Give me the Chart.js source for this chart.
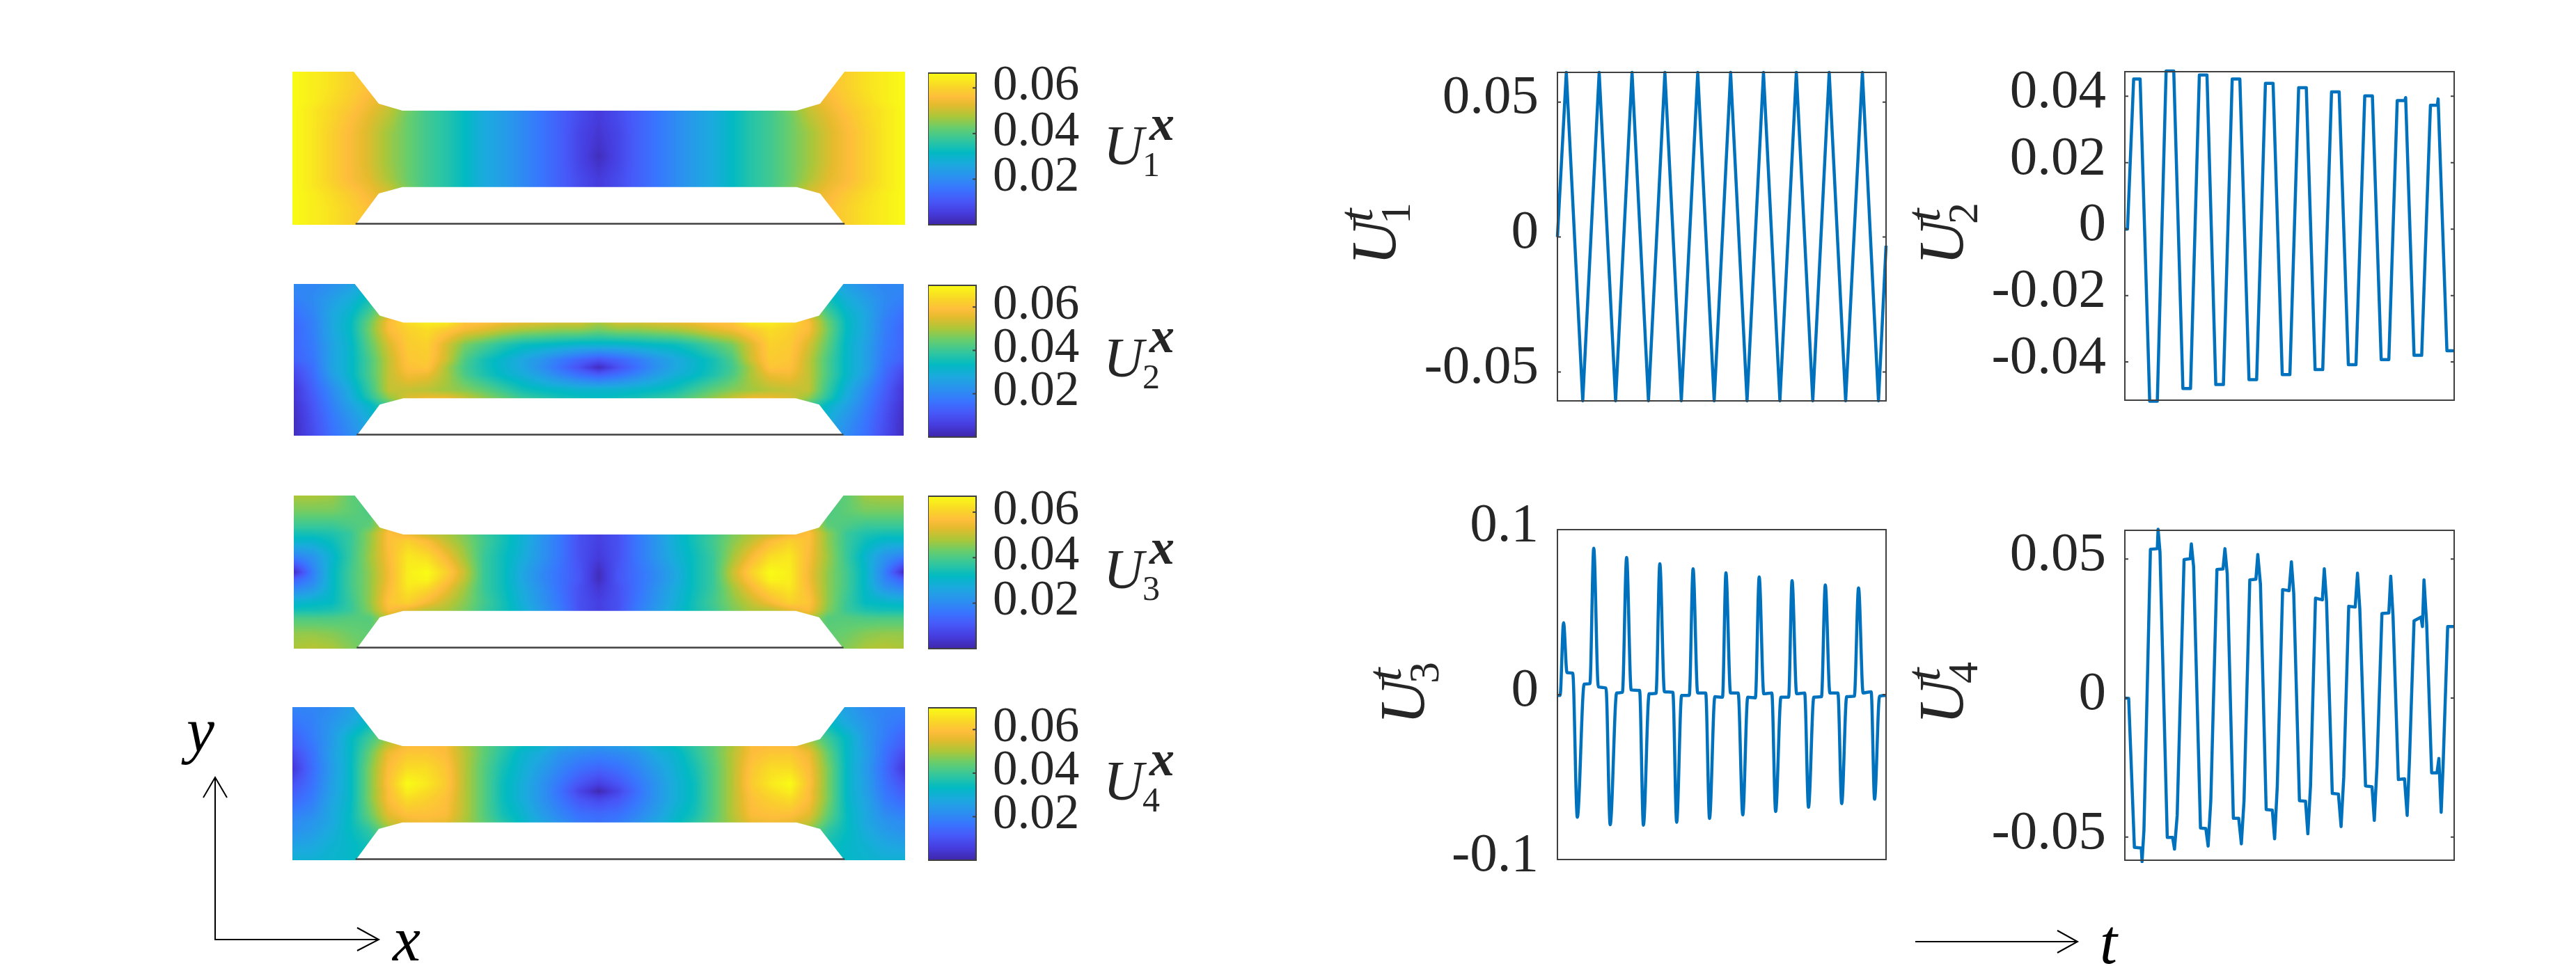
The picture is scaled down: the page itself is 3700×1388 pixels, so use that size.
<!DOCTYPE html>
<html>
<head>
<meta charset="utf-8">
<title>Modes</title>
<script src="https://cdn.jsdelivr.net/npm/chart.js@4"></script>
<style>
  body { margin: 0; background: #fff; width: 3700px; height: 1388px; overflow: hidden; position: relative; }
  canvas { position: absolute; }
</style>
</head>
<body>
<script>
// time coefficients, t in load cycles
const t1 = [0, .27, .77, 1.27, 1.77, 2.27, 2.77, 3.27, 3.77, 4.27, 4.77, 5.27, 5.77, 6.27, 6.77, 7.27, 7.77, 8.27, 8.77, 9.28, 9.77, 10];
const u1 = [0, .061, -.0607, .061, -.0607, .061, -.0607, .061, -.0607, .061, -.0607, .061, -.0607, .061, -.0607, .061, -.0607, .061, -.0607, .061, -.0607, -.0032];

const t2 = [0, .08, .267, .464, .754, .986, 1.253, 1.485, 1.763, 1.995, 2.262, 2.494, 2.761, 2.993, 3.26, 3.492, 3.77, 4.002, 4.269, 4.501, 4.78, 5.012, 5.278, 5.51, 5.777, 6.009, 6.276, 6.508, 6.787, 7.019, 7.285, 7.517, 7.784, 8.016, 8.271, 8.5, 8.527, 8.782, 9.014, 9.28, 9.49, 9.513, 9.78, 10];
const u2 = [0, 0, .0452, .0452, -.0518, -.0518, .0476, .0476, -.048, -.048, .0464, .0464, -.0468, -.0468, .0452, .0452, -.0453, -.0453, .0439, .0439, -.0438, -.0438, .0426, .0426, -.0423, -.0423, .0413, .0413, -.0408, -.0408, .0401, .0401, -.0393, -.0393, .0387, .0387, .0396, -.038, -.038, .0373, .0373, .0392, -.0366, -.0366];

const t3 = [0, .081, .186, .291, .465, .605, .814, .988, 1.105, 1.244, 1.477, 1.605, 1.802, 1.977, 2.105, 2.244, 2.5, 2.616, 2.791, 3, 3.116, 3.256, 3.512, 3.628, 3.779, 4.012, 4.128, 4.267, 4.512, 4.628, 4.791, 5.023, 5.128, 5.267, 5.5, 5.64, 5.791, 6.023, 6.14, 6.279, 6.523, 6.64, 6.802, 7.035, 7.14, 7.279, 7.523, 7.64, 7.802, 8.035, 8.151, 8.291, 8.535, 8.651, 8.802, 9.035, 9.163, 9.302, 9.547, 9.651, 9.802, 10];
const u3 = [-.0005, -.0005, .0436, .0133, .013, -.0744, .0063, .0066, .0887, .0047, .004, -.0789, .001, .0013, .0831, .0028, .0025, -.0792, .0005, .0007, .0793, .0017, .0014, -.0774, -.0005, -.0005, .0763, .001, .001, -.0751, -.0013, -.0016, .0738, .001, .001, -.0729, -.0016, -.002, .0713, .0005, .001, -.0709, -.0016, -.0016, .0691, .0005, .001, -.0683, -.0016, -.0013, .0665, .001, .001, -.0661, -.0013, -.001, .0647, .001, .0017, -.0634, -.001, -.0005];

const t4 = [0, .116, .29, .499, .522, .58, .777, .986, 1.009, 1.067, 1.288, 1.45, 1.508, 1.589, 1.798, 1.984, 2.019, 2.088, 2.297, 2.459, 2.529, 2.61, 2.796, 2.981, 3.039, 3.109, 3.295, 3.457, 3.538, 3.619, 3.794, 3.979, 4.037, 4.118, 4.292, 4.478, 4.548, 4.629, 4.791, 4.988, 5.058, 5.128, 5.302, 5.487, 5.557, 5.638, 5.789, 5.998, 6.056, 6.125, 6.299, 6.485, 6.566, 6.647, 6.798, 6.995, 7.065, 7.135, 7.309, 7.506, 7.575, 7.657, 7.807, 8.016, 8.074, 8.144, 8.306, 8.492, 8.573, 8.643, 8.782, 8.991, 9.037, 9.084, 9.165, 9.316, 9.478, 9.536, 9.606, 9.664, 9.803, 10];
const u4 = [0, -.0001, -.0537, -.0539, -.0588, -.0474, .0535, .0537, .0607, .0525, -.0501, -.0501, -.0543, -.0422, .0498, .0501, .0554, .0472, -.0467, -.0469, -.0532, -.0369, .0462, .0464, .0537, .0446, -.0432, -.0432, -.0524, -.0369, .0425, .0427, .0516, .0409, -.0401, -.0403, -.0506, -.0316, .039, .0386, .049, .0377, -.0369, -.0371, -.0488, -.0316, .0359, .0353, .0465, .0346, -.0343, -.0345, -.0462, -.0285, .033, .0327, .0449, .032, -.0316, -.0319, -.044, -.0243, .0304, .0306, .0438, .0293, -.0293, -.029, -.0422, -.0222, .0278, .0291, .0257, .0425, .0267, -.0269, -.0269, -.0217, -.0411, -.0243, .0257, .0257];

const yTicks12 = [.05, 0, -.05];
const yTicks2 = [.04, .02, 0, -.02, -.04];
const yTicks3 = [.1, 0, -.1];
const barTicks = [.02, .04, .06];

// spatial modes, read in units of 1e-3 on a grid of 33 columns by 14 rows
const gridX = [0, 1, 2, 3, 4, 5, 6, 7, 8, 9, 10, 11, 12, 13, 14, 15, 16, 17, 18, 19, 20, 21, 22, 23, 24, 25, 26, 27, 28, 29, 30, 31, 32];
const gridY = [10, 9, 8, 7.5, 7, 6, 5, 4.5, 4, 3, 2.5, 2, 1, 0];

const fieldA = [
  [67,65,63,60,57,54,45,39,36,32,27,24,20,16,12,8,5,8,12,16,20,24,27,32,36,39,45,54,57,60,63,65,67],
  [67,65,63,60,57,54,45,39,36,32,27,24,20,16,12,8,5,8,12,16,20,24,27,32,36,39,45,54,57,60,63,65,67],
  [67,65,62,59,55,52,44,39,36,32,27,24,20,16,12,8,5,8,12,16,20,24,27,32,36,39,44,52,55,59,62,65,67],
  [67,64,61,58,54,50,44,39,36,32,27,24,20,16,12,8,5,8,12,16,20,24,27,32,36,39,44,50,54,58,61,64,67],
  [67,64,61,57,53,49,43,39,36,32,27,24,20,16,12,8,5,8,12,16,20,24,27,32,36,39,43,49,53,57,61,64,67],
  [67,64,60,56,52,47,43,39,36,32,27,24,20,16,12,7,4,7,12,16,20,24,27,32,36,39,43,47,52,56,60,64,67],
  [67,64,60,56,52,47,43,39,36,32,27,24,20,16,12,7,3,7,12,16,20,24,27,32,36,39,43,47,52,56,60,64,67],
  [67,64,60,56,52,47,43,39,36,32,27,24,20,16,12,7,2,7,12,16,20,24,27,32,36,39,43,47,52,56,60,64,67],
  [67,64,60,56,52,47,43,39,36,32,27,24,20,16,12,7,3,7,12,16,20,24,27,32,36,39,43,47,52,56,60,64,67],
  [67,64,60,56,53,48,43,39,36,32,27,24,20,16,12,8,5,8,12,16,20,24,27,32,36,39,43,48,53,56,60,64,67],
  [67,64,61,57,54,50,44,39,36,32,27,24,20,16,12,8,5,8,12,16,20,24,27,32,36,39,44,50,54,57,61,64,67],
  [67,65,62,59,55,52,44,39,36,32,27,24,20,16,12,8,5,8,12,16,20,24,27,32,36,39,44,52,55,59,62,65,67],
  [67,65,63,60,57,54,45,39,36,32,27,24,20,16,12,8,5,8,12,16,20,24,27,32,36,39,45,54,57,60,63,65,67],
  [67,65,63,60,57,54,45,39,36,32,27,24,20,16,12,8,5,8,12,16,20,24,27,32,36,39,45,54,57,60,63,65,67]
];
const fieldB = [
  [20,19,21,24,30,40,50,60,65,58,57,55,54,53,52,52,48,52,52,53,54,55,57,58,65,60,50,40,30,24,21,19,20],
  [18,20,24,28,34,44,55,62,65,58,57,55,54,53,52,52,48,52,52,53,54,55,57,58,65,62,55,44,34,28,24,20,18],
  [15,19,26,31,40,52,60,65,65,58,57,55,54,53,52,52,48,52,52,53,54,55,57,58,65,65,60,52,40,31,26,19,15],
  [14,18,26,32,43,56,62,65,65,58,57,55,54,53,52,52,48,52,52,53,54,55,57,58,65,65,62,56,43,32,26,18,14],
  [13,18,26,32,44,56,60,62,59,55,53,50,48,47,46,46,44,46,46,47,48,50,53,55,59,62,60,56,44,32,26,18,13],
  [13,17,25,31,42,52,59,60,52,44,40,36,33,32,31,30,30,30,31,32,33,36,40,44,52,60,59,52,42,31,25,17,13],
  [12,16,25,31,40,50,58,59,51,40,34,30,26,22,17,13,10,13,17,22,26,30,34,40,51,59,58,50,40,31,25,16,12],
  [9,15,25,31,40,50,57,58,48,39,34,30,26,21,15,9,2,9,15,21,26,30,34,39,48,58,57,50,40,31,25,15,9],
  [7,14,24,31,40,50,55,54,48,40,35,31,28,24,19,15,12,15,19,24,28,31,35,40,48,54,55,50,40,31,24,14,7],
  [4,12,20,28,38,50,50,49,47,45,42,38,34,32,31,30,30,30,31,32,34,38,42,45,47,49,50,50,38,28,20,12,4],
  [4,11,19,27,36,46,52,54,54,50,46,42,38,36,34,33,32,33,34,36,38,42,46,50,54,54,52,46,36,27,19,11,4],
  [3,10,18,25,31,40,48,54,54,50,46,42,38,36,34,33,32,33,34,36,38,42,46,50,54,54,48,40,31,25,18,10,3],
  [2,9,16,22,28,36,48,54,54,50,46,42,38,36,34,33,32,33,34,36,38,42,46,50,54,54,48,36,28,22,16,9,2],
  [2,8,15,20,26,34,48,54,54,50,46,42,38,36,34,33,32,33,34,36,38,42,46,50,54,54,48,34,26,20,15,8,2]
];
const fieldC = [
  [48,48,47,42,40,50,54,50,48,44,38,34,29,23,17,9,6,9,17,23,29,34,38,44,48,50,54,50,40,42,47,48,48],
  [44,44,44,42,40,52,54,50,48,44,38,34,29,23,17,9,6,9,17,23,29,34,38,44,48,50,54,52,40,42,44,44,44],
  [38,38,38,40,42,54,54,50,48,44,38,34,29,23,17,9,6,9,17,23,29,34,38,44,48,50,54,54,42,40,38,38,38],
  [34,34,35,38,46,57,54,50,48,44,38,34,29,23,17,9,6,9,17,23,29,34,38,44,48,50,54,57,46,38,35,34,34],
  [30,30,33,38,46,57,60,56,50,45,39,34,29,22,16,9,6,9,16,22,29,34,39,45,50,56,60,57,46,38,33,30,30],
  [18,22,30,38,47,56,64,62,55,47,38,33,28,22,16,9,5,9,16,22,28,33,38,47,55,62,64,56,47,38,30,22,18],
  [2,18,31,39,46,55,65,67,60,50,38,33,26,20,15,10,2,10,15,20,26,33,38,50,60,67,65,55,46,39,31,18,2],
  [12,19,31,39,46,55,65,66,58,49,38,33,26,20,15,10,2,10,15,20,26,33,38,49,58,66,65,55,46,39,31,19,12],
  [18,22,31,39,46,56,64,62,55,47,38,33,27,21,15,9,4,9,15,21,27,33,38,47,55,62,64,56,46,39,31,22,18],
  [30,31,32,38,46,58,60,55,50,45,39,34,28,22,16,9,6,9,16,22,28,34,39,45,50,55,60,58,46,38,32,31,30],
  [34,34,35,38,45,56,53,49,48,44,38,34,29,23,17,9,6,9,17,23,29,34,38,44,48,49,53,56,45,38,35,34,34],
  [40,40,40,41,41,50,53,49,48,44,38,34,29,23,17,9,6,9,17,23,29,34,38,44,48,49,53,50,41,41,40,40,40],
  [46,46,45,43,42,46,53,49,48,44,38,34,29,23,17,9,6,9,17,23,29,34,38,44,48,49,53,46,42,43,45,46,46],
  [48,49,48,45,42,46,53,49,48,44,38,34,29,23,17,9,6,9,17,23,29,34,38,44,48,49,53,46,42,45,48,49,48]
];
const fieldD = [
  [19,19,20,24,28,36,50,56,56,48,42,37,33,30,26,24,23,24,26,30,33,37,42,48,56,56,50,36,28,24,20,19,19],
  [16,18,22,26,32,42,54,56,56,48,42,37,33,30,26,24,23,24,26,30,33,37,42,48,56,56,54,42,32,26,22,18,16],
  [12,17,23,31,38,46,56,56,56,48,42,37,33,30,26,24,23,24,26,30,33,37,42,48,56,56,56,46,38,31,23,17,12],
  [11,16,23,31,40,50,56,56,56,48,42,37,33,30,26,24,23,24,26,30,33,37,42,48,56,56,56,50,40,31,23,16,11],
  [8,15,24,31,42,54,58,58,56,49,42,36,30,27,22,20,19,20,22,27,30,36,42,49,56,58,58,54,42,31,24,15,8],
  [4,14,23,31,44,56,62,62,58,49,41,34,29,24,19,15,13,15,19,24,29,34,41,49,58,62,62,56,44,31,23,14,4],
  [9,15,24,31,44,57,67,64,59,49,41,33,28,22,16,10,6,10,16,22,28,33,41,49,59,64,67,57,44,31,24,15,9],
  [11,16,24,31,44,56,65,62,58,49,41,33,28,22,15,7,1,7,15,22,28,33,41,49,58,62,65,56,44,31,24,16,11],
  [13,17,25,31,44,56,62,60,57,49,41,33,28,22,16,10,7,10,16,22,28,33,41,49,57,60,62,56,44,31,25,17,13],
  [18,20,26,32,42,53,57,57,56,49,41,34,30,24,19,15,14,15,19,24,30,34,41,49,56,57,57,53,42,32,26,20,18],
  [20,22,26,32,40,50,54,55,54,48,42,36,31,26,21,17,15,17,21,26,31,36,42,48,54,55,54,50,40,32,26,22,20],
  [21,23,27,32,37,46,54,55,54,48,42,36,31,26,21,17,15,17,21,26,31,36,42,48,54,55,54,46,37,32,27,23,21],
  [25,26,29,31,34,44,54,55,54,48,42,36,31,26,21,17,15,17,21,26,31,36,42,48,54,55,54,44,34,31,29,26,25],
  [29,29,30,31,34,44,54,55,54,48,42,36,31,26,21,17,15,17,21,26,31,36,42,48,54,55,54,44,34,31,30,29,29]
];

// specimen outline in grid units
const outlineX = [0, 3.2, 4.51, 5.75, 26.33, 27.56, 28.84, 32, 32, 28.84, 27.56, 26.33, 5.75, 4.51, 3.3, 0];
const outlineY = [10, 10, 7.91, 7.45, 7.45, 7.91, 10, 10, 0, 0, 2.05, 2.47, 2.47, 2.05, 0, 0];

// parula
const cmapPos = [0, 5, 10, 15, 20, 25, 30, 35, 40, 45, 50, 53, 57, 63];
const cmapHex = ["#3e26a8", "#463cde", "#4758f8", "#3875fe", "#2b91ef", "#1ca9df", "#02bac3", "#31c69f", "#64cd6f", "#abc739", "#e6bb2d", "#febd3c", "#f9d429", "#f9fb15"];
const heatMax = 67;

const ink = "#262626";
const frameColor = "#404040";
const serif = '"Liberation Serif", serif';

Chart.defaults.animation = false;
Chart.defaults.responsive = false;
Chart.defaults.devicePixelRatio = 1;
Chart.defaults.plugins.legend.display = false;
Chart.defaults.plugins.tooltip.enabled = false;

function hexRgb(h) {
  return [1, 3, 5].map((i) => parseInt(h.slice(i, i + 2), 16));
}

const lut = [];
for (let i = 0; i < 256; i++) {
  const p = (i / 255) * 63;
  let k = 0;
  while (k < cmapPos.length - 2 && cmapPos[k + 1] < p) k++;
  const f = (p - cmapPos[k]) / (cmapPos[k + 1] - cmapPos[k]);
  const a = hexRgb(cmapHex[k]);
  const b = hexRgb(cmapHex[k + 1]);
  lut.push(a.map((c, n) => c + (b[n] - c) * f));
}

function addCanvas(left, top, w, h) {
  const c = document.createElement("canvas");
  c.width = w;
  c.height = h;
  c.style.left = left + "px";
  c.style.top = top + "px";
  document.body.appendChild(c);
  return c.getContext("2d");
}

// box outline plus the short inward MATLAB ticks
const framePlugin = {
  id: "frame",
  afterDraw(chart, args, opts) {
    const { ctx, chartArea: a, scales } = chart;
    const y = scales.y;
    ctx.save();
    ctx.strokeStyle = frameColor;
    ctx.lineWidth = 2;
    ctx.strokeRect(a.left, a.top, a.right - a.left, a.bottom - a.top);
    y.ticks.forEach((tk) => {
      const py = y.getPixelForValue(tk.value);
      ctx.beginPath();
      if (opts.both) {
        ctx.moveTo(a.left, py);
        ctx.lineTo(a.left + 5, py);
      }
      ctx.moveTo(a.right, py);
      ctx.lineTo(a.right - 5, py);
      ctx.stroke();
    });
    ctx.restore();
  },
};

function lineChart(box, t, u, yMin, yMax, ticks) {
  const padL = 210, padV = 50;
  const ctx = addCanvas(box.l - padL, box.t - padV, box.r - box.l + padL + 10, box.b - box.t + 2 * padV);
  return new Chart(ctx, {
    type: "scatter",
    data: {
      datasets: [
        {
          data: t.map((v, i) => ({ x: v, y: u[i] })),
          showLine: true,
          borderColor: "#0072bd",
          borderWidth: 4.5,
          borderJoinStyle: "round",
          pointRadius: 0,
          clip: 4,
          cubicInterpolationMode: box.smooth ? "monotone" : "default",
        },
      ],
    },
    options: {
      layout: { padding: { top: padV, bottom: padV, right: 10 } },
      plugins: { frame: { both: true } },
      scales: {
        x: { type: "linear", min: 0, max: 10, display: false },
        y: {
          type: "linear",
          min: yMin,
          max: yMax,
          afterFit: (s) => {
            s.width = padL;
            s.paddingTop = 0;
            s.paddingBottom = 0;
          },
          afterBuildTicks: (s) => { s.ticks = ticks.map((v) => ({ value: v })); },
          grid: { display: false },
          border: { display: false },
          ticks: {
            autoSkip: false,
            padding: 19,
            labelOffset: -5,
            color: ink,
            font: { family: serif, size: 79 },
            callback: (v) => String(v),
          },
        },
      },
    },
    plugins: [framePlugin],
  });
}

function colorBar(box, top) {
  const padV = 50, padR = 160;
  const ctx = addCanvas(box.l, box.t - padV, box.r - box.l + padR, box.b - box.t + 2 * padV);
  return new Chart(ctx, {
    type: "bar",
    data: {
      labels: [""],
      datasets: [
        {
          data: [[0, top]],
          categoryPercentage: 1,
          barPercentage: 1,
          backgroundColor: (c) => {
            const area = c.chart.chartArea;
            if (!area) return "#000";
            const g = c.chart.ctx.createLinearGradient(0, area.bottom, 0, area.top);
            cmapPos.forEach((p, i) => g.addColorStop(p / 63, cmapHex[i]));
            return g;
          },
        },
      ],
    },
    options: {
      layout: { padding: { top: padV, bottom: padV } },
      plugins: { frame: { both: false } },
      scales: {
        x: { display: false },
        y: {
          type: "linear",
          position: "right",
          min: 0,
          max: top,
          afterFit: (s) => {
            s.width = padR;
            s.paddingTop = 0;
            s.paddingBottom = 0;
          },
          afterBuildTicks: (s) => { s.ticks = barTicks.map((v) => ({ value: v })); },
          grid: { display: false },
          border: { display: false },
          ticks: {
            autoSkip: false,
            padding: 16,
            labelOffset: -2,
            color: ink,
            font: { family: serif, size: 71 },
          },
        },
      },
    },
    plugins: [framePlugin],
  });
}

// smooths the grid nodes between the pixels the scales give for them
const heatPlugin = {
  id: "heat",
  afterDatasetsDraw(chart) {
    const { ctx, chartArea: a, scales: { x, y } } = chart;
    const pts = chart.data.datasets[0].data;
    const nc = gridX.length;
    const W = Math.round(a.right - a.left), H = Math.round(a.bottom - a.top);
    const off = document.createElement("canvas");
    off.width = W;
    off.height = H;
    const oc = off.getContext("2d");
    const img = oc.createImageData(W, H);
    for (let py = 0; py < H; py++) {
      const yv = y.getValueForPixel(a.top + py + 0.5);
      let r = 0;
      while (r < gridY.length - 2 && gridY[r + 1] > yv) r++;
      const fy = (gridY[r] - yv) / (gridY[r] - gridY[r + 1]);
      for (let px = 0; px < W; px++) {
        const xv = x.getValueForPixel(a.left + px + 0.5);
        const c = Math.max(0, Math.min(nc - 2, Math.floor(xv)));
        const fx = xv - c;
        const top = pts[r * nc + c].v * (1 - fx) + pts[r * nc + c + 1].v * fx;
        const bot = pts[(r + 1) * nc + c].v * (1 - fx) + pts[(r + 1) * nc + c + 1].v * fx;
        const val = top * (1 - fy) + bot * fy;
        const rgb = lut[Math.max(0, Math.min(255, Math.round((val / heatMax) * 255)))];
        const o = (py * W + px) * 4;
        img.data[o] = rgb[0];
        img.data[o + 1] = rgb[1];
        img.data[o + 2] = rgb[2];
        img.data[o + 3] = 255;
      }
    }
    oc.putImageData(img, 0, 0);
    ctx.save();
    ctx.beginPath();
    outlineX.forEach((v, i) => {
      ctx.lineTo(x.getPixelForValue(v), y.getPixelForValue(outlineY[i]));
    });
    ctx.closePath();
    ctx.clip();
    ctx.drawImage(off, a.left, a.top);
    ctx.restore();
    ctx.save();
    ctx.strokeStyle = frameColor;
    ctx.lineWidth = 2.5;
    ctx.beginPath();
    ctx.moveTo(x.getPixelForValue(3.3), a.bottom - 1.5);
    ctx.lineTo(x.getPixelForValue(28.84), a.bottom - 1.5);
    ctx.stroke();
    ctx.restore();
  },
};

function heatChart(box, field) {
  const ctx = addCanvas(box.l, box.t, box.r - box.l, box.b - box.t);
  const pts = [];
  gridY.forEach((gy, r) => {
    gridX.forEach((gx, c) => {
      pts.push({ x: gx, y: gy, v: field[r][c] });
    });
  });
  return new Chart(ctx, {
    type: "scatter",
    data: { datasets: [{ data: pts, pointRadius: 0 }] },
    options: {
      scales: {
        x: { type: "linear", min: 0, max: 32, display: false },
        y: { type: "linear", min: 0, max: 10, display: false },
      },
    },
    plugins: [heatPlugin],
  });
}

heatChart({ l: 420, r: 1300, t: 103, b: 323 }, fieldA);
heatChart({ l: 422, r: 1298, t: 408, b: 626 }, fieldB);
heatChart({ l: 422, r: 1298, t: 712, b: 932 }, fieldC);
heatChart({ l: 420, r: 1300, t: 1016, b: 1236 }, fieldD);

colorBar({ l: 1333, r: 1402, t: 105, b: 323 }, .0665);
colorBar({ l: 1333, r: 1402, t: 410, b: 628 }, .07);
colorBar({ l: 1333, r: 1402, t: 713, b: 932 }, .067);
colorBar({ l: 1333, r: 1402, t: 1017, b: 1236 }, .07);

lineChart({ l: 2237, r: 2709, t: 104, b: 576 }, t1, u1, -.0607, .061, yTicks12);
lineChart({ l: 3052, r: 3525, t: 103, b: 575 }, t2, u2, -.0515, .0474, yTicks2);
lineChart({ l: 2237, r: 2709, t: 761, b: 1235, smooth: true }, t3, u3, -.1, .1, yTicks3);
lineChart({ l: 3052, r: 3525, t: 762, b: 1236 }, t4, u4, -.0583, .0603, yTicks12);

// symbols and the two axis arrows, on one overlay in page coordinates
const barLabelTops = [103, 408, 712, 1016];
const barLabelSubs = ["1", "2", "3", "4"];
const sideLabels = [
  { x: 2004, y: 381, sub: "1" },
  { x: 2819, y: 381, sub: "2" },
  { x: 2045, y: 1041, sub: "3" },
  { x: 2819, y: 1041, sub: "4" },
];

const overlayPlugin = {
  id: "overlay",
  afterDraw(chart) {
    const ctx = chart.ctx;
    const text = (s, x, y, font) => {
      ctx.font = font;
      ctx.fillText(s, x, y);
    };
    const math = 'italic 90px ' + serif;
    ctx.save();
    ctx.fillStyle = ink;
    ctx.textBaseline = "alphabetic";
    barLabelTops.forEach((top, i) => {
      text("U", 1585, top + 133, "italic 80px " + serif);
      text(barLabelSubs[i], 1641, top + 150, "50px " + serif);
      text("x", 1651, top + 98, "italic bold 72px " + serif);
    });
    sideLabels.forEach((l) => {
      ctx.save();
      ctx.translate(l.x, l.y);
      ctx.rotate(-Math.PI / 2);
      text("U", 0, 0, math);
      text("t", 62, -33, "italic 70px " + serif);
      text(l.sub, 59, 21, "62px " + serif);
      ctx.restore();
    });
    ctx.fillStyle = "#000";
    text("y", 268, 1080, math);
    text("x", 564, 1380, math);
    text("t", 3016, 1384, math);

    ctx.strokeStyle = "#000";
    ctx.lineWidth = 2;
    const seg = (pts) => {
      ctx.beginPath();
      pts.forEach((p) => ctx.lineTo(p[0], p[1]));
      ctx.stroke();
    };
    seg([[309, 1117], [309, 1350], [544, 1350]]);
    seg([[292, 1146], [309, 1117], [326, 1146]]);
    seg([[513, 1333], [544, 1350], [513, 1366]]);
    seg([[2751, 1353], [2984, 1353]]);
    seg([[2955, 1337], [2984, 1353], [2955, 1369]]);
    ctx.restore();
  },
};

new Chart(addCanvas(0, 0, 3700, 1388), {
  type: "scatter",
  data: { datasets: [] },
  options: { scales: { x: { display: false }, y: { display: false } } },
  plugins: [overlayPlugin],
});
</script>
</body>
</html>
